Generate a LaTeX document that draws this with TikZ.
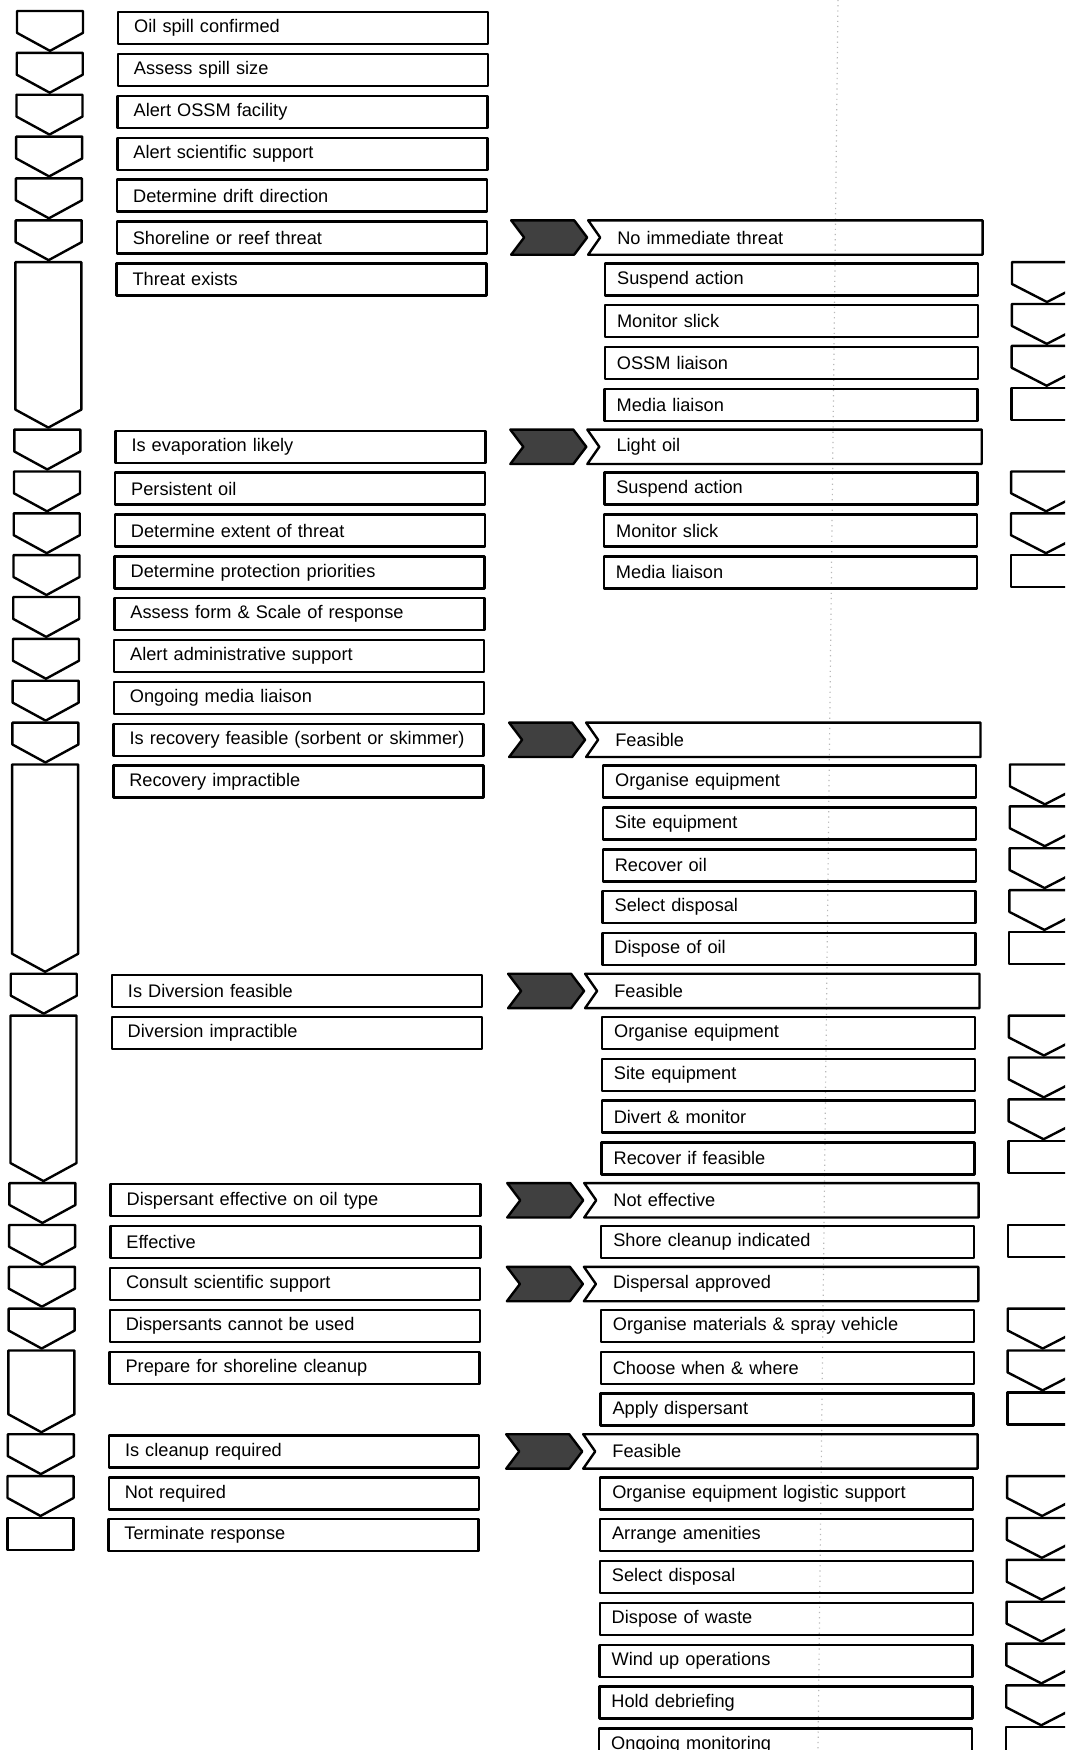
\documentclass[tikz,border=0pt]{standalone}
\usepackage{fontspec}
\setmainfont{Liberation Sans}
\usetikzlibrary{calc}

% chevron: left x, top y, tip y, width
\newcommand{\chevron}[4]{\draw (#1,#2) -- ({#1+#4},#2) -- ({#1+#4},{#3-18}) -- ({#1+#4/2},#3) -- (#1,{#3-18}) -- cycle;}
\newcommand{\flatbox}[3]{\draw (#1,#2) rectangle ({#1+#3},{#2+32});}

\begin{document}
\begin{tikzpicture}[x=0.5pt, y=-0.5pt, line width=1.2pt, line join=round,
      every node/.append style={font=\fontsize{9.1}{11}\selectfont},
      stepbox/.style={draw, rectangle, anchor=north west, minimum height=16pt, inner ysep=0pt, align=left},
      leftbox/.style={stepbox, inner xsep=8pt, text width=169pt},
      rightbox/.style={stepbox, inner xsep=6pt, text width=174.5pt},
      headbox/.style={rectangle, anchor=north west, minimum height=16pt, inner ysep=0pt, inner xsep=14pt, text width=168pt, align=left},
      tag/.style={fill=black!75, draw=black}]
  \useasboundingbox (0,0) rectangle (1065,1750);
  \clip (0,0) rectangle (1065,1750);

  % fold line of the scan
  \draw[gray!55, dotted, line width=0.6pt] (838,0) -- (818,1750);

  % left column of steps
  \foreach \k/\txt [evaluate=\k as \yy using 11+41.86*\k, evaluate=\k as \xx using 117-0.27*\k] in
    {0/Oil spill confirmed, 1/Assess spill size, 2/Alert OSSM facility, 3/Alert scientific support,
     4/Determine drift direction, 5/Shoreline or reef threat, 6/Threat exists,
     10/Is evaporation likely, 11/Persistent oil, 12/Determine extent of threat,
     13/Determine protection priorities, 14/Assess form \& Scale of response,
     15/Alert administrative support, 16/Ongoing media liaison,
     17/Is recovery feasible (sorbent or skimmer), 18/Recovery impractible,
     23/Is Diversion feasible, 24/Diversion impractible,
     28/Dispersant effective on oil type, 29/Effective, 30/Consult scientific support,
     31/Dispersants cannot be used, 32/Prepare for shoreline cleanup,
     34/Is cleanup required, 35/Not required, 36/Terminate response}
    \node[leftbox] (L\k) at (\xx,\yy) {\mbox{\txt}};

  % left chevrons
  \foreach \s/\e [evaluate=\s as \yy using 11+41.86*\s, evaluate=\e as \tip using 9+41.86*\e, evaluate=\s as \xx using 17-0.27*\s] in
    {0/1, 1/2, 2/3, 3/4, 4/5, 5/6, 6/10, 10/11, 11/12, 12/13, 13/14, 14/15, 15/16, 16/17, 17/18,
     18/23, 23/24, 24/28, 28/29, 29/30, 30/31, 31/32, 32/34, 34/35, 35/36}
    {\chevron{\xx}{\yy}{\tip}{66}}
  \flatbox{7.3}{1518}{66}

  % decision rows with tags
  \foreach \k/\txt [evaluate=\k as \yy using 11+41.86*\k, evaluate=\k as \xx using 589-0.17*\k] in
    {5/No immediate threat, 10/Light oil, 17/Feasible, 23/Feasible, 28/Not effective,
     30/Dispersal approved, 34/Feasible}
  {
    \node[headbox, minimum width=196pt] (H\k) at (\xx,\yy) {\txt};
    \draw (H\k.north west) -- (H\k.north east) -- (H\k.south east) -- (H\k.south west) -- ([xshift=6pt]H\k.west) -- cycle;
    \draw[tag] ([xshift=-38.5pt]H\k.north west) -- ([xshift=-7pt]H\k.north west) -- ([xshift=-0.5pt]H\k.west)
      -- ([xshift=-7pt]H\k.south west) -- ([xshift=-38.5pt]H\k.south west) -- ([xshift=-32pt]H\k.west) -- cycle;
  }

  % right column of actions
  \foreach \k/\txt [evaluate=\k as \yy using 11+41.86*\k, evaluate=\k as \xx using 605-0.17*\k] in
    {6/Suspend action, 7/Monitor slick, 8/OSSM liaison, 9/Media liaison,
     11/Suspend action, 12/Monitor slick, 13/Media liaison,
     18/Organise equipment, 19/Site equipment, 20/Recover oil, 21/Select disposal, 22/Dispose of oil,
     24/Organise equipment, 25/Site equipment, 26/Divert \& monitor, 27/Recover if feasible,
     29/Shore cleanup indicated,
     31/Organise materials \& spray vehicle, 32/Choose when \& where, 33/Apply dispersant,
     35/Organise equipment logistic support, 36/Arrange amenities, 37/Select disposal,
     38/Dispose of waste, 39/Wind up operations, 40/Hold debriefing, 41/Ongoing monitoring}
    \node[rightbox] (R\k) at (\xx,\yy) {\mbox{\txt}};

  % right chevrons
  \foreach \s [evaluate=\s as \yy using 11+41.86*\s, evaluate=\s as \tip using 9+41.86*(\s+1), evaluate=\s as \xx using 1013-0.17*\s] in
    {6, 7, 8, 11, 12, 18, 19, 20, 21, 24, 25, 26, 31, 32, 35, 36, 37, 38, 39, 40}
    {\chevron{\xx}{\yy}{\tip}{70}}
  \foreach \s [evaluate=\s as \yy using 11+41.86*\s, evaluate=\s as \xx using 1013-0.17*\s] in
    {9, 13, 22, 27, 29, 33, 41}
    {\flatbox{\xx}{\yy}{70}}
\end{tikzpicture}
\end{document}
